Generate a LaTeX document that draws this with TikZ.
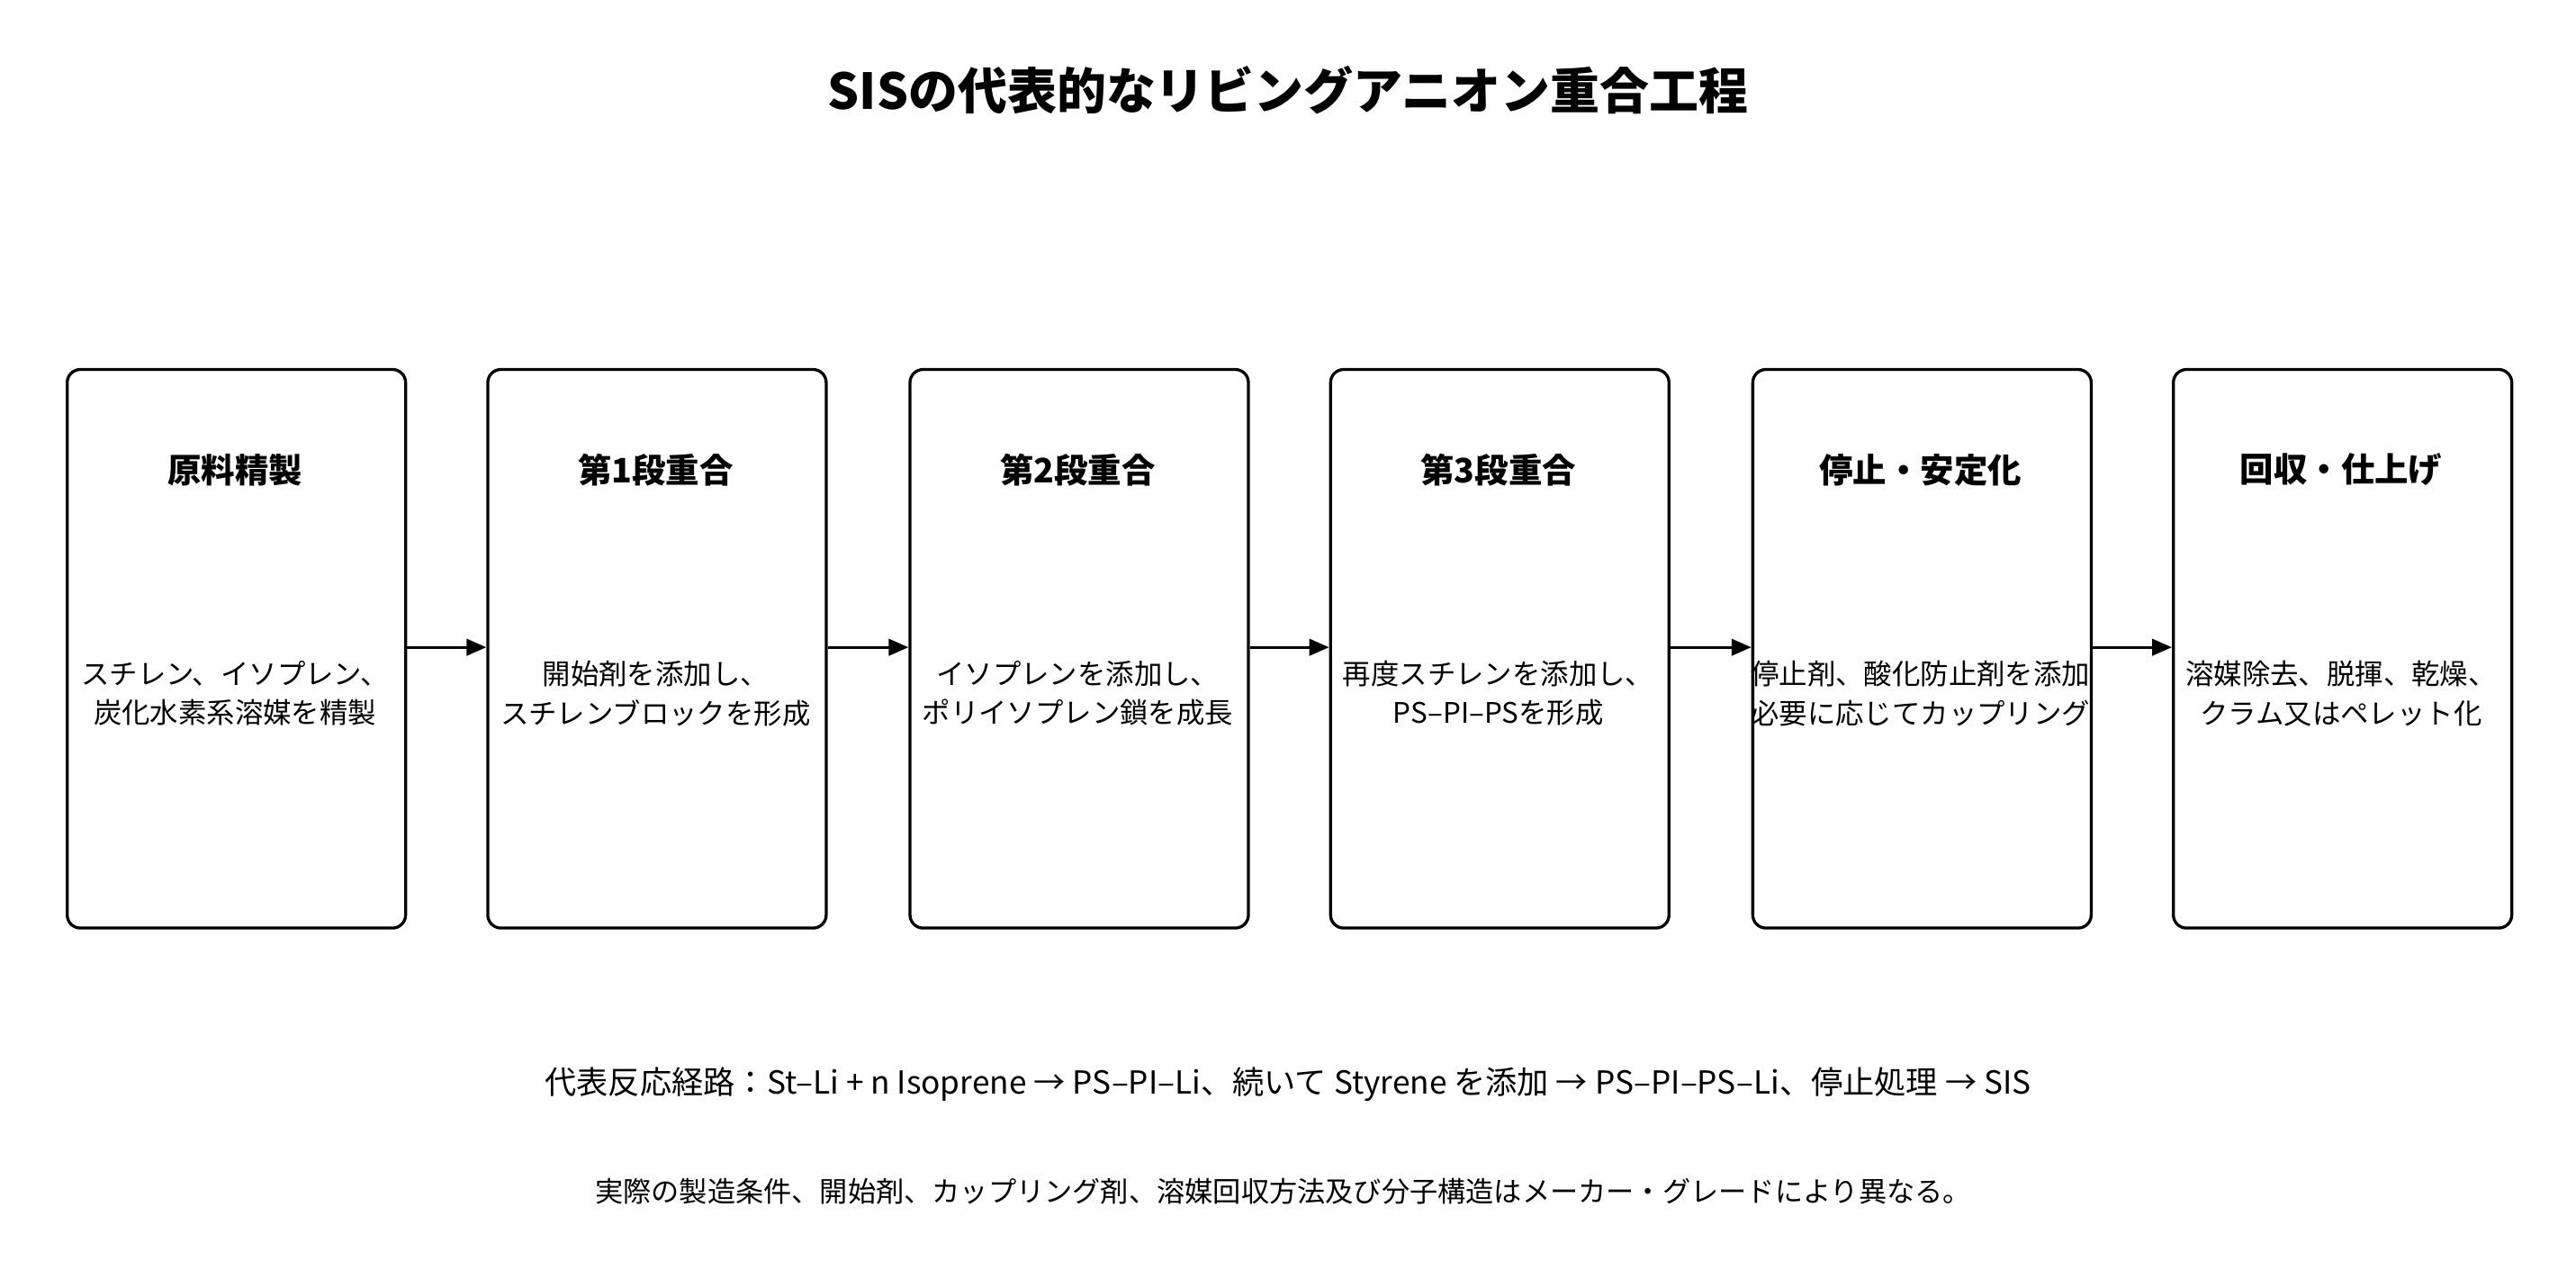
\documentclass[tikz,border=0pt]{standalone}
\usepackage{fontspec}
\setmainfont{Noto Sans CJK JP}
\usetikzlibrary{arrows.meta}
\begin{document}
\begin{tikzpicture}[x=1pt,y=-1pt,
  box/.style={draw,line width=1.8pt,rounded corners=8pt,minimum width=206pt,minimum height=340pt,anchor=north west,inner sep=0},
  hd/.style={font=\fontsize{20.5}{24}\selectfont\bfseries},
  bd/.style={font=\fontsize{17.2}{24}\selectfont,align=center},
  arr/.style={-{Triangle[length=12pt,width=10pt]},line width=1.8pt}]
\useasboundingbox (0,0) rectangle (1568,778);
\node[font=\fontsize{30.1}{34}\selectfont\bfseries] (title) at (784,55) {SISの代表的なリビングアニオン重合工程};
\foreach \i/\x/\h/\b in {
 1/40/原料精製/{スチレン、イソプレン、\\炭化水素系溶媒を精製},
 2/296/第1段重合/{開始剤を添加し、\\スチレンブロックを形成},
 3/553/第2段重合/{イソプレンを添加し、\\ポリイソプレン鎖を成長},
 4/809/第3段重合/{再度スチレンを添加し、\\PS–PI–PSを形成},
 5/1066/停止・安定化/{停止剤、酸化防止剤を添加\\必要に応じてカップリング},
 6/1322/回収・仕上げ/{溶媒除去、脱揮、乾燥、\\クラム又はペレット化}}{
 \node[box] (b\i) at (\x,224) {};
 \node[hd] (h\i) at (\x+103,286) {\h};
 \node[bd] (t\i) at (\x+103,422) {\b};
}
\foreach \a/\b in {1/2,2/3,3/4,4/5,5/6}{\draw[arr] (b\a.east|-0,394) -- (b\b.west|-0,394);}
\node[font=\fontsize{19.3}{24}\selectfont] (r) at (784,660) {代表反応経路：St–Li + n Isoprene → PS–PI–Li、続いて Styrene を添加 → PS–PI–PS–Li、停止処理 → SIS};
\node[font=\fontsize{17.1}{20}\selectfont] (n) at (781,725) {実際の製造条件、開始剤、カップリング剤、溶媒回収方法及び分子構造はメーカー・グレードにより異なる。};
\end{tikzpicture}
\end{document}
